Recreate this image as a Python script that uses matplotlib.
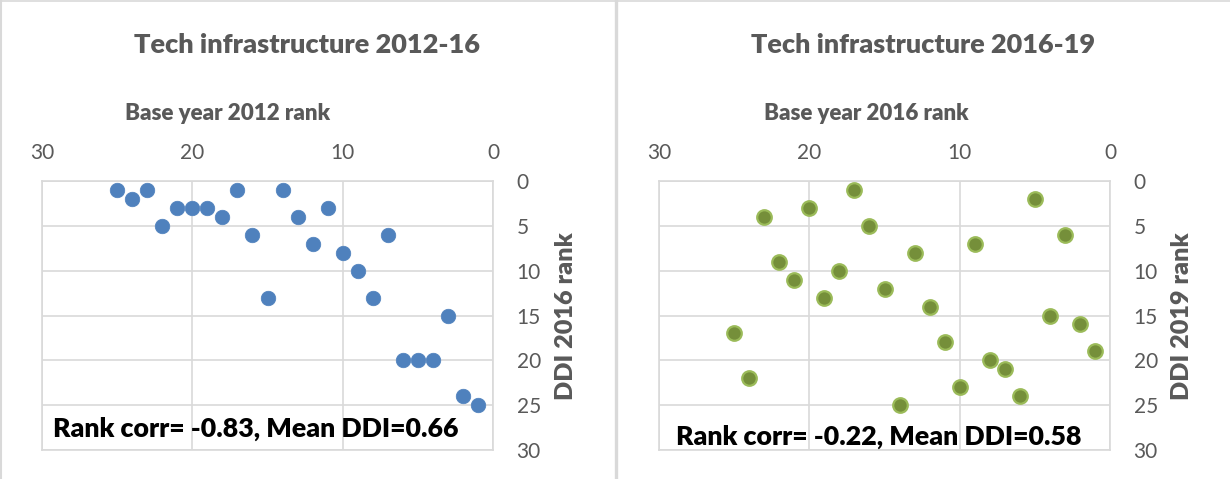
import matplotlib
matplotlib.use("Agg")
import matplotlib.pyplot as plt
from matplotlib.lines import Line2D

# ---------------- data ----------------
rank_2012 = [25, 24, 23, 22, 21, 20, 19, 18, 17, 16, 15, 14, 13, 12, 11, 10, 9, 8, 7, 6, 5, 4, 3, 2, 1]
ddi_2016 = [1, 2, 1, 5, 3, 3, 3, 4, 1, 6, 13, 1, 4, 7, 3, 8, 10, 13, 6, 20, 20, 20, 15, 24, 25]

rank_2016 = [1, 2, 3, 4, 5, 6, 7, 8, 9, 10, 11, 12, 13, 14, 15, 16, 17, 18, 19, 20, 21, 22, 23, 24, 25]
ddi_2019 = [19, 16, 6, 15, 2, 24, 21, 20, 7, 23, 18, 14, 8, 25, 12, 5, 1, 10, 13, 3, 11, 9, 4, 22, 17]

titles = ["Tech infrastructure 2012-16", "Tech infrastructure 2016-19"]
xlabels = ["Base year 2012 rank", "Base year 2016 rank"]
ylabels = ["DDI 2016 rank", "DDI 2019 rank"]
notes = ["Rank corr= -0.83, Mean DDI=0.66", "Rank corr= -0.22, Mean DDI=0.58"]
x_ticks = [30, 20, 10, 0]
y_ticks = [0, 5, 10, 15, 20, 25, 30]

# ---------------- layout ----------------
W, H = 1230, 479
fig = plt.figure(figsize=(W / 100, H / 100), dpi=100)
fig.patch.set_facecolor("white")
FONT = "Lato"
GRAY = "#595959"
GRID = "#d9d9d9"


def rect(x0, x1, ytop, ybot):
    return [x0 / W, 1 - ybot / H, (x1 - x0) / W, (ybot - ytop) / H]


def ftext(x, y, s, **kw):
    return fig.text(x / W, 1 - y / H, s, **kw)


renderer = fig.canvas.get_renderer()


def fit(t, target_w):
    for _ in range(2):
        w = t.get_window_extent(renderer).width
        t.set_fontsize(t.get_fontsize() * target_w / w)


panels = [
    dict(ax=(42, 493, 181, 450), x=rank_2012, y=ddi_2016,
         face="#4f81bd", edge="#4f81bd", ew=0.5,
         title=(307, 45, 345), xl=(228, 114, 205), yl=(566, 316, 168),
         note=(256, 429, 405)),
    dict(ax=(659, 1110, 181, 450), x=rank_2016, y=ddi_2019,
         face="#758f3a", edge="#9bbb59", ew=1.6,
         title=(923, 45, 345), xl=(866, 114, 205), yl=(1182, 316, 168),
         note=(879, 437, 405)),
]

for i, p in enumerate(panels):
    ax = fig.add_axes(rect(*p["ax"]))
    ax.set_xlim(30, 0)
    ax.set_ylim(30, 0)
    ax.set_xticks(x_ticks)
    ax.set_yticks(y_ticks)
    ax.xaxis.tick_top()
    ax.yaxis.tick_right()
    ax.tick_params(axis="x", length=0, pad=13, labelsize=15, labelcolor=GRAY)
    ax.tick_params(axis="y", length=0, pad=17, labelsize=15, labelcolor=GRAY)
    for lab in ax.get_xticklabels() + ax.get_yticklabels():
        lab.set_fontfamily(FONT)
    ax.grid(True, color=GRID, linewidth=1.2)
    ax.set_axisbelow(True)
    for sp in ax.spines.values():
        sp.set_color(GRID)
        sp.set_linewidth(1.2)
    ax.scatter(p["x"], p["y"], s=110, c=p["face"], edgecolors=p["edge"],
               linewidths=p["ew"], zorder=3, clip_on=False)

    tx, ty, tw = p["title"]
    t = ftext(tx, ty, titles[i], ha="center", va="center", fontsize=20,
              fontweight="heavy", color=GRAY, family=FONT)
    fit(t, tw)
    lx, ly, lw = p["xl"]
    t = ftext(lx, ly, xlabels[i], ha="center", va="center", fontsize=14,
              fontweight="heavy", color=GRAY, family=FONT)
    fit(t, lw)
    yx, yy, yh = p["yl"]
    t = ftext(yx, yy, ylabels[i], ha="center", va="center", rotation=90,
              fontsize=14, fontweight="heavy", color=GRAY, family=FONT)
    for _ in range(2):
        h = t.get_window_extent(renderer).height
        t.set_fontsize(t.get_fontsize() * yh / h)
    nx, ny, nw = p["note"]
    t = ftext(nx, ny, notes[i], ha="center", va="center", fontsize=18,
              fontweight="heavy", color="black", family=FONT, zorder=5)
    fit(t, nw)

# panel frames
fig.add_artist(Line2D([0, 1], [1 - 1 / H, 1 - 1 / H], transform=fig.transFigure,
                      color=GRID, linewidth=1.2))
fig.add_artist(Line2D([1 / W, 1 / W], [0, 1], transform=fig.transFigure,
                      color=GRID, linewidth=1.5))
fig.add_artist(Line2D([615.5 / W, 615.5 / W], [0, 1], transform=fig.transFigure,
                      color=GRID, linewidth=2.4))

fig.savefig("out.png", dpi=100, facecolor="white")
